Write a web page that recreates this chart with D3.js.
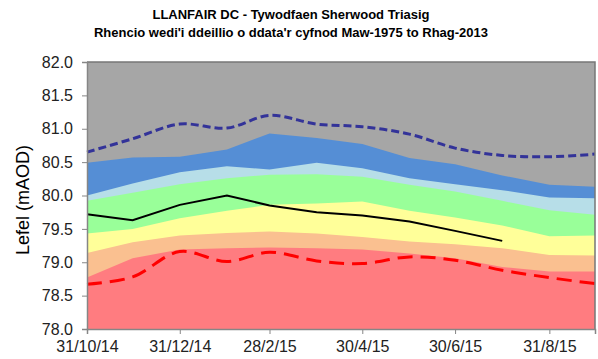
<!DOCTYPE html>
<html>
<head>
<meta charset="utf-8">
<script src="https://cdn.jsdelivr.net/npm/d3@7"></script>
<style>
  html, body { margin: 0; padding: 0; background: #fff; }
  svg { display: block; font-family: "Liberation Sans", Arial, sans-serif; }
</style>
</head>
<body>
<svg id="chart" width="598" height="359"></svg>
<script>
// Month-end dates of the monthly ranking bands
const months = ["2014-10-31","2014-11-30","2014-12-31","2015-01-31","2015-02-28","2015-03-31",
                "2015-04-30","2015-05-31","2015-06-30","2015-07-31","2015-08-31","2015-09-30"];

// Upper edge of each ranking band (mAOD)
const blueTop      = [80.49,80.57,80.58,80.69,80.93,80.86,80.77,80.56,80.47,80.30,80.16,80.13];
const lightBlueTop = [80.00,80.18,80.35,80.44,80.39,80.49,80.41,80.26,80.17,80.08,79.97,79.96];
const greenTop     = [79.92,80.04,80.17,80.26,80.31,80.32,80.28,80.16,80.06,79.92,79.78,79.71];
const yellowTop    = [79.43,79.50,79.66,79.77,79.86,79.88,79.91,79.77,79.67,79.55,79.39,79.40];
const orangeTop    = [79.14,79.30,79.40,79.44,79.46,79.43,79.38,79.31,79.27,79.21,79.11,79.10];
const redTop       = [78.77,79.06,79.19,79.21,79.22,79.21,79.19,79.13,79.06,78.93,78.86,78.86];

// Historic maximum and minimum levels
const maxLevel = [80.65,80.85,81.07,81.01,81.20,81.07,81.03,80.92,80.71,80.60,80.58,80.62];
const minLevel = [78.67,78.78,79.16,79.01,79.15,79.02,78.98,79.08,79.03,78.88,78.77,78.68];

// Observed levels
const observed = [79.72,79.63,79.86,80.00,79.85,79.75,79.70,79.61,79.47,79.32];

// Axis ticks
const xTickDates = ["2014-10-31","2014-12-31","2015-02-28","2015-04-30","2015-06-30","2015-08-31"];
const yTicks = [78.0,78.5,79.0,79.5,80.0,80.5,81.0,81.5,82.0];

const titleLines = ["LLANFAIR DC - Tywodfaen Sherwood Triasig",
                    "Rhencio wedi'i ddeillio o ddata'r cyfnod Maw-1975 to Rhag-2013"];
const yTitle = "Lefel (mAOD)";

const parse = d3.utcParse("%Y-%m-%d");
const dates = months.map(parse);

const svg = d3.select("#chart");
const plotL = 87, plotR = 595, plotT = 62, plotB = 329;

const x = d3.scaleUtc()
  .domain([parse("2014-10-31"), parse("2015-09-30")])
  .range([plotL, plotR]);
const y = d3.scaleLinear().domain([78, 82]).range([plotB, plotT]);

// Plot background (above the highest band)
svg.append("rect")
  .attr("x", plotL).attr("y", plotT)
  .attr("width", plotR - plotL).attr("height", plotB - plotT)
  .attr("fill", "#a6a6a6");

const bands = [
  { edge: blueTop,      color: "#558ed5" },
  { edge: lightBlueTop, color: "#b7dee8" },
  { edge: greenTop,     color: "#99ff99" },
  { edge: yellowTop,    color: "#ffff99" },
  { edge: orangeTop,    color: "#fac090" },
  { edge: redTop,       color: "#ff7c80" }
];

const area = d3.area()
  .x(d => x(d.date))
  .y0(y(78))
  .y1(d => y(d.v));

bands.forEach(b => {
  svg.append("path")
    .datum(dates.map((d, i) => ({ date: d, v: b.edge[i] })))
    .attr("d", area)
    .attr("fill", b.color);
});

const smooth = d3.line()
  .x(d => x(d.date)).y(d => y(d.v))
  .curve(d3.curveCatmullRom.alpha(0.5));

svg.append("path")
  .datum(dates.map((d, i) => ({ date: d, v: maxLevel[i] })))
  .attr("d", smooth)
  .attr("fill", "none")
  .attr("stroke", "#333399")
  .attr("stroke-width", 3)
  .attr("stroke-dasharray", "8,4");

svg.append("path")
  .datum(dates.map((d, i) => ({ date: d, v: minLevel[i] })))
  .attr("d", smooth)
  .attr("fill", "none")
  .attr("stroke", "#ff0000")
  .attr("stroke-width", 3)
  .attr("stroke-dasharray", "15,8");

const straight = d3.line().x(d => x(d.date)).y(d => y(d.v));
svg.append("path")
  .datum(observed.map((v, i) => ({ date: dates[i], v })))
  .attr("d", straight)
  .attr("fill", "none")
  .attr("stroke", "#000")
  .attr("stroke-width", 2);

// Plot frame (top and right)
svg.append("path")
  .attr("d", `M${plotL},${plotT}H${plotR}V${plotB}`)
  .attr("fill", "none")
  .attr("stroke", "#777")
  .attr("stroke-width", 1.5);

// Axes
const fmt = d => `${d.getUTCDate()}/${d.getUTCMonth() + 1}/${String(d.getUTCFullYear()).slice(2)}`;
const xAxis = svg.append("g")
  .attr("transform", `translate(0,${plotB})`)
  .call(d3.axisBottom(x).tickValues(xTickDates.map(parse)).tickFormat(fmt)
        .tickSize(5).tickPadding(7));
const yAxis = svg.append("g")
  .attr("transform", `translate(${plotL},0)`)
  .call(d3.axisLeft(y).tickValues(yTicks).tickFormat(d3.format(".1f"))
        .tickSize(5).tickPadding(9));

[xAxis, yAxis].forEach(g => {
  g.select(".domain").attr("stroke", "#868686").attr("stroke-width", 1.5);
  g.selectAll(".tick line").attr("stroke", "#868686");
  g.selectAll(".tick text")
    .attr("fill", "#222")
    .style("font-size", "16px")
    .style("font-family", "'Liberation Sans', Arial, sans-serif");
});

// Titles
svg.append("g")
  .selectAll("text")
  .data(titleLines)
  .join("text")
  .attr("x", 291)
  .attr("y", (d, i) => 19 + i * 18)
  .attr("text-anchor", "middle")
  .attr("font-weight", "bold")
  .attr("font-size", 13)
  .attr("fill", "#000")
  .text(d => d);

svg.append("text")
  .attr("transform", `translate(29,200) rotate(-90)`)
  .attr("text-anchor", "middle")
  .attr("font-size", 18)
  .attr("fill", "#000")
  .text(yTitle);
</script>
</body>
</html>
